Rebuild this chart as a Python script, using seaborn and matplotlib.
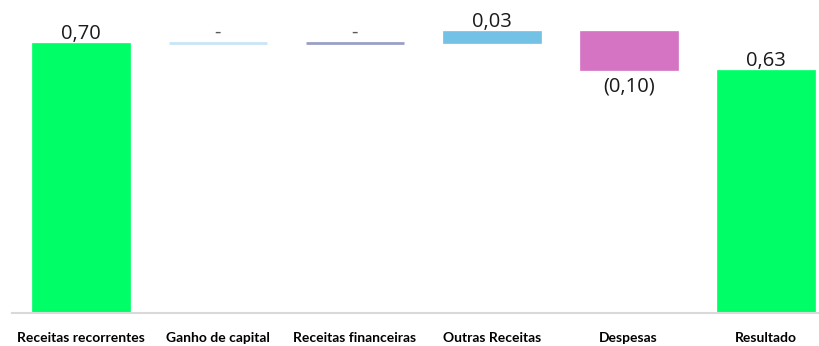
import numpy as np
import pandas as pd
import matplotlib
matplotlib.use("Agg")
import matplotlib.pyplot as plt
import seaborn as sns

categories = ["Receitas recorrentes", "Ganho de capital", "Receitas financeiras",
              "Outras Receitas", "Despesas", "Resultado"]
values = [0.70, 0.0, 0.0, 0.03, -0.10, 0.63]
is_total = [True, False, False, False, False, True]
colors = ["#00FF66", "#C9E6F8", "#98A0C6", "#73C2E6", "#D674C4", "#00FF66"]

# waterfall geometry derived from the values
bottoms, heights = [], []
running = 0.0
for v, tot in zip(values, is_total):
    if tot:
        bottoms.append(0.0)
        heights.append(v)
        running = v
    else:
        lo = min(running, running + v)
        bottoms.append(lo)
        heights.append(abs(v))
        running += v

def fmt(v):
    if abs(v) < 1e-9:
        return "-"
    s = f"{abs(v):.2f}".replace(".", ",")
    return f"({s})" if v < 0 else s

df = pd.DataFrame({"cat": categories, "h": heights})

sns.set_style("white")
plt.rcParams["font.family"] = ["Open Sans", "DejaVu Sans"]

fig = plt.figure(figsize=(8.19, 3.46), dpi=100)
ax = fig.add_axes([12 / 819, 33 / 346, 807 / 819, 313 / 346])

sns.barplot(data=df, x="cat", y="h", bottom=bottoms, width=0.716,
            color="#00FF66", ax=ax)

for p, c, h in zip(ax.patches, colors, heights):
    p.set_facecolor(c)
    p.set_edgecolor(c)
    p.set_linewidth(2.0 if h == 0 else 0.5)

for i, (v, b, h) in enumerate(zip(values, bottoms, heights)):
    if v < 0:
        ax.annotate(fmt(v), (i, b), xytext=(0, -4.5), textcoords="offset points",
                    ha="center", va="top", fontsize=14.5, color="#1a1a1a")
    elif abs(v) < 1e-9:
        ax.annotate(fmt(v), (i, b + h), xytext=(0, 3.5), textcoords="offset points",
                    ha="center", va="baseline", fontsize=14.5, color="#595959")
    else:
        ax.annotate(fmt(v), (i, b + h), xytext=(0, 3), textcoords="offset points",
                    ha="center", va="baseline", fontsize=14.5, color="#1a1a1a")

ax.set_xlim(-0.504, 5.39)
ax.set_ylim(0, 313 / ((313 - 43) / 0.70))
ax.set_xlabel("")
ax.set_ylabel("")
ax.set_yticks([])
ax.tick_params(axis="x", length=0, pad=14)
for lbl in ax.get_xticklabels():
    lbl.set_fontfamily(["Lato", "DejaVu Sans"])
    lbl.set_fontweight("bold")
    lbl.set_fontsize(10)
    lbl.set_color("#000000")
for s in ["top", "left", "right"]:
    ax.spines[s].set_visible(False)
ax.spines["bottom"].set_color("#D9D9D9")
ax.spines["bottom"].set_linewidth(1.5)

fig.savefig("out.png", dpi=100)
